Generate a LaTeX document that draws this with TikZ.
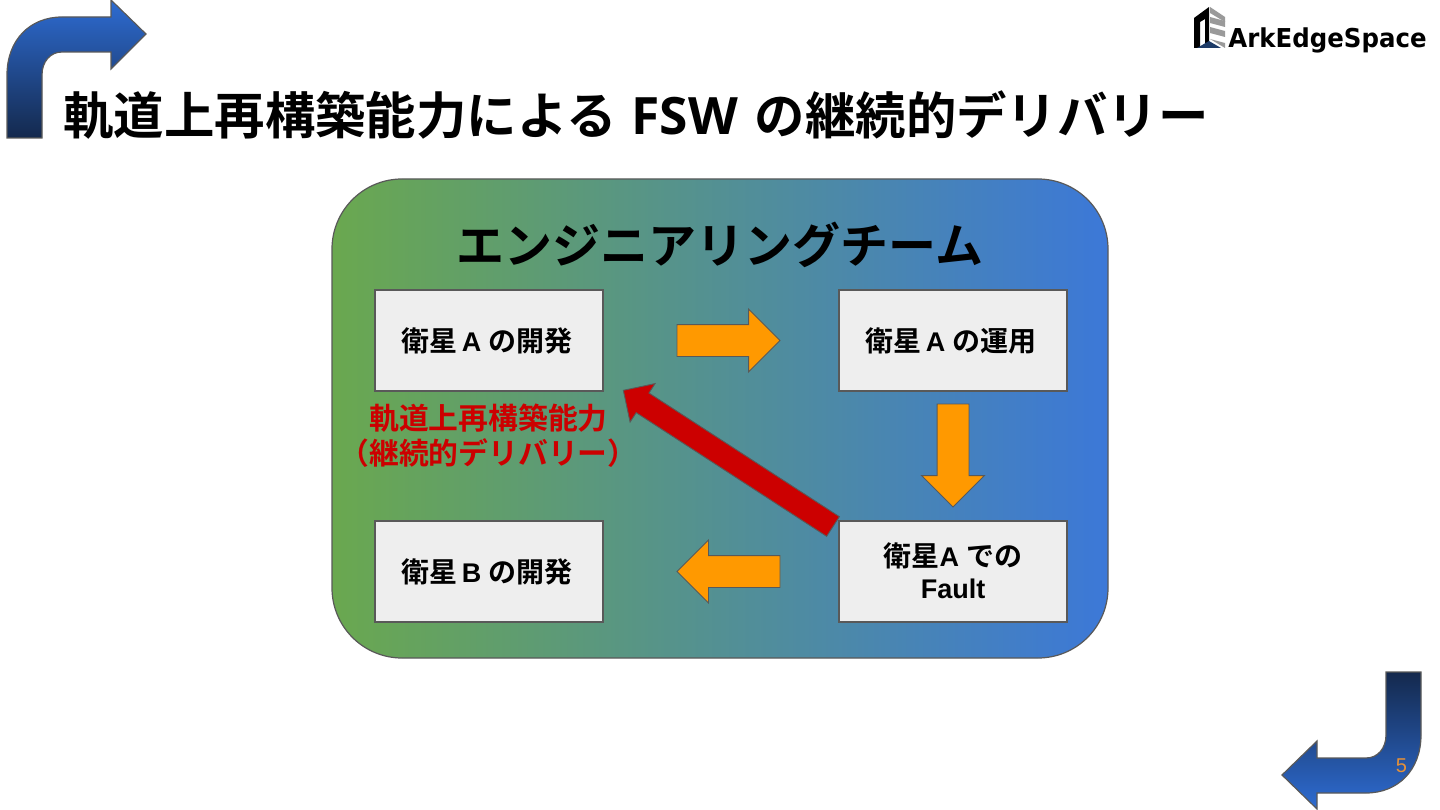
\documentclass[tikz,border=0pt]{standalone}
\usepackage{fontspec}
\setmainfont{Liberation Sans}
\newfontfamily\cjk{Noto Sans CJK JP}[BoldFont={Noto Sans CJK JP Bold}]
\newfontfamily\titlelatin{Open Sans}
\newfontfamily\logofont{DejaVu Sans}
\usetikzlibrary{calc,positioning,shapes.arrows}
\definecolor{BoxFill}{HTML}{EEEEEE}
\definecolor{EdgeGray}{HTML}{595959}
\definecolor{TeamGreen}{HTML}{6AA84F}
\definecolor{TeamBlue}{HTML}{3C78D8}
\definecolor{StepOrange}{HTML}{FF9900}
\definecolor{DeliveryRed}{HTML}{CC0000}
\definecolor{BendLight}{HTML}{2E6CD2}
\definecolor{BendMid}{HTML}{2559AC}
\definecolor{BendDark}{HTML}{14294D}
\definecolor{PageOrange}{HTML}{E69138}
\definecolor{LogoGray}{HTML}{9A9A9A}
\definecolor{LogoNavy}{HTML}{1C3A66}
\tikzset{
    stagebox/.style={draw=EdgeGray, line width=1.2pt, fill=BoxFill, inner sep=0pt, outer sep=0pt,
        minimum width=228pt, minimum height=101pt, align=center,
        font=\fontsize{27}{33}\selectfont\bfseries},
    blockarrow/.style={single arrow, draw=EdgeGray, line width=0.9pt, fill=StepOrange, inner xsep=0pt, inner ysep=15.5pt, outer sep=0pt,
        minimum width=62pt, minimum height=103pt, single arrow head extend=15.5pt, anchor=tail}
}
\NewDocumentCommand{\StageCjk}{m}{{\cjk\fontsize{28}{33}\selectfont #1}}
\NewDocumentCommand{\DrawStripe}{O{13}}{
    \fill[LogoGray] (1210,#1-1) -- (1225,#1+3) -- (1225,#1+9) -- (1210,#1+5) -- cycle;
}
\begin{document}
\begin{tikzpicture}[x=1pt, y=-1pt]

    \useasboundingbox (0,0) rectangle (1440,810);

    % bent arrows in the corners
    \shade[draw=EdgeGray, line width=1.2pt, top color=BendLight, middle color=BendMid, bottom color=BendDark]
        (7,138) -- (7,75) .. controls (7,40) and (30,17) .. (62,17) -- (111,17) -- (111,0)
        -- (146,34) -- (111,69) -- (111,52) -- (62,52) .. controls (50,52) and (42,62) .. (42,75)
        -- (42,138) -- cycle;
    \shade[draw=EdgeGray, line width=1.2pt, top color=BendDark, middle color=BendMid, bottom color=BendLight]
        (1421,672) -- (1421,735) .. controls (1421,770) and (1398,793) .. (1366,793) -- (1317,793) -- (1317,809)
        -- (1282,775) -- (1317,741) -- (1317,758) -- (1366,758) .. controls (1378,758) and (1386,748) .. (1386,735)
        -- (1386,672) -- cycle;
    \node[text=PageOrange, font=\fontsize{20}{20}\selectfont] (pagenum) at (1401.5,766) {5};

    % logo
    \fill[black] (1194,48) -- (1194,18) -- (1209,7) -- (1209,42) -- (1205,44) -- (1205,19) -- (1200,22) -- (1200,48) -- cycle;
    \fill[LogoGray] (1210,7) -- (1225,17) -- (1225,22) -- (1210,13) -- cycle;
    \DrawStripe[18]
    \DrawStripe[28]
    \fill[LogoGray] (1210,39) -- (1225,43) -- (1225,48) -- cycle;
    \fill[LogoNavy] (1197,48) -- (1209,41) -- (1221,48) -- cycle;
    \node[font=\logofont\fontsize{26}{26}\selectfont\bfseries] (logotext) at (1327.5,40) {\scalebox{0.94}[1]{ArkEdgeSpace}};

    \node[font=\cjk\fontsize{50.4}{50}\selectfont\bfseries, anchor=west] (title) at (60,115)
        {軌道上再構築能力による\hspace{15pt}{\titlelatin\fontsize{51.5}{50}\selectfont FSW}\hspace{17pt}の継続的デリバリー};

    % team panel
    \shade[draw=EdgeGray, line width=1.2pt, left color=TeamGreen, right color=TeamBlue, rounded corners=70pt]
        (332,179) rectangle (1108,658);
    \node[font=\cjk\fontsize{48}{48}\selectfont\bfseries] (team) at (720,245) {エンジニアリングチーム};

    \node[stagebox] (devA) at (489,340.5) {\StageCjk{衛星}\,A \StageCjk{の開発}\hspace{4pt}};
    \node[stagebox, right=236pt of devA] (opsA) {\StageCjk{衛星}\,A \StageCjk{の運用}\hspace{4pt}};
    \node[stagebox, below=130pt of devA] (devB) {\StageCjk{衛星}\,B \StageCjk{の開発}\hspace{4pt}};
    \node[stagebox, below=130pt of opsA] (faultA) {\raisebox{2pt}{\StageCjk{衛星}A \StageCjk{での}}\\[-1pt]\raisebox{2pt}{Fault}};

    \node[blockarrow] (stepOps) at ($(devA.east)+(74,0)$) {};
    \node[blockarrow, rotate=270] (stepFault) at ($(opsA.south)+(0,13)$) {};
    \node[blockarrow, rotate=180] (stepNext) at ($(faultA.west)+(-59,0)$) {};
    \node[blockarrow, rotate=147, fill=DeliveryRed, inner ysep=11.25pt, minimum width=45pt, minimum height=250pt, single arrow head extend=11.25pt]
        (stepBack) at ($(faultA.north west)+(-6,5.5)$) {};

    \node[text=DeliveryRed, align=center, font=\cjk\fontsize{29.8}{35}\selectfont\bfseries] (backlabel) at (488.5,436)
        {軌道上再構築能力\\（継続的デリバリー）};

\end{tikzpicture}
\end{document}
